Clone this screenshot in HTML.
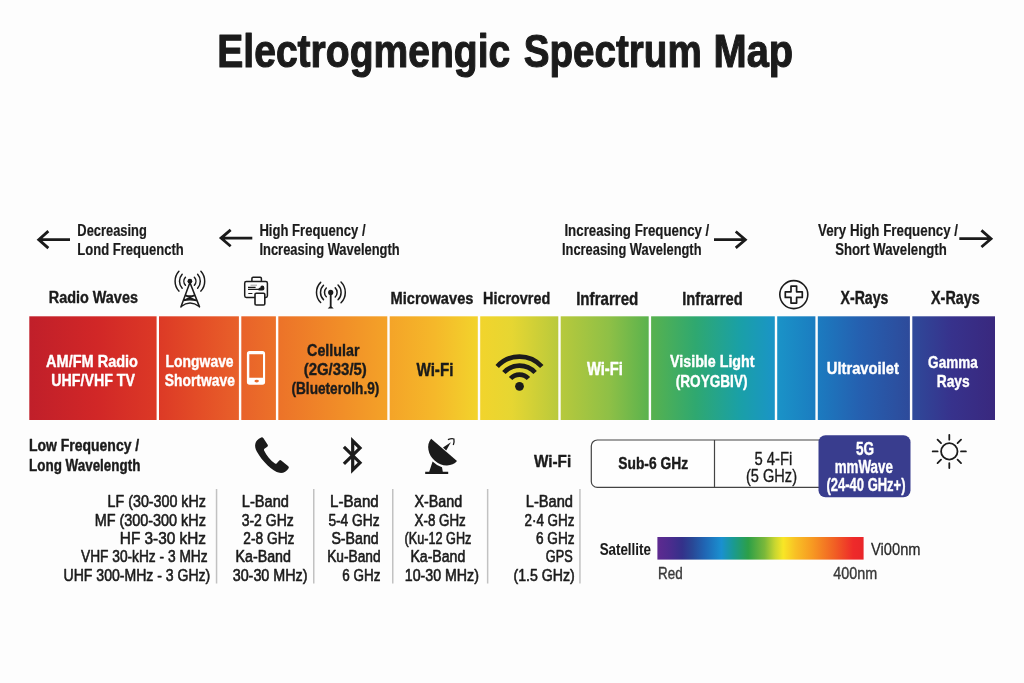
<!DOCTYPE html>
<html><head><meta charset="utf-8"><title>Electromagnetic Spectrum Map</title>
<style>
html,body{margin:0;padding:0;background:#fdfdfd;}
body{width:1024px;height:683px;overflow:hidden;font-family:"Liberation Sans",sans-serif;}
svg{display:block;will-change:transform;opacity:0.999;}
svg text{font-family:"Liberation Sans",sans-serif;}
</style></head><body>
<svg width="1024" height="683" viewBox="0 0 1024 683">
<text x="217.30" y="66.50" font-size="47" font-weight="bold" fill="#1b1b1b" textLength="292.91" lengthAdjust="spacingAndGlyphs" stroke="#1b1b1b" stroke-width="1.1" stroke-linejoin="round">Electrogmengic</text>
<text x="523.68" y="66.50" font-size="47" font-weight="bold" fill="#1b1b1b" textLength="178.10" lengthAdjust="spacingAndGlyphs" stroke="#1b1b1b" stroke-width="1.1" stroke-linejoin="round">Spectrum</text>
<text x="713.45" y="66.50" font-size="47" font-weight="bold" fill="#1b1b1b" textLength="79.71" lengthAdjust="spacingAndGlyphs" stroke="#1b1b1b" stroke-width="1.1" stroke-linejoin="round">Map</text>
<text x="77.34" y="235.60" font-size="16" font-weight="bold" fill="#1b1b1b" textLength="69.44" lengthAdjust="spacingAndGlyphs" stroke="#1b1b1b" stroke-width="0.2" stroke-linejoin="round">Decreasing</text>
<text x="77.33" y="254.60" font-size="16" font-weight="bold" fill="#1b1b1b" textLength="106.38" lengthAdjust="spacingAndGlyphs" stroke="#1b1b1b" stroke-width="0.2" stroke-linejoin="round">Lond Frequencth</text>
<text x="259.43" y="236.00" font-size="16" font-weight="bold" fill="#1b1b1b" textLength="106.09" lengthAdjust="spacingAndGlyphs" stroke="#1b1b1b" stroke-width="0.2" stroke-linejoin="round">High Frequency /</text>
<text x="259.44" y="255.00" font-size="16" font-weight="bold" fill="#1b1b1b" textLength="140.25" lengthAdjust="spacingAndGlyphs" stroke="#1b1b1b" stroke-width="0.2" stroke-linejoin="round">Increasing Wavelength</text>
<text x="564.42" y="235.90" font-size="16" font-weight="bold" fill="#1b1b1b" textLength="144.91" lengthAdjust="spacingAndGlyphs" stroke="#1b1b1b" stroke-width="0.2" stroke-linejoin="round">Increasing Frequency /</text>
<text x="562.04" y="254.90" font-size="16" font-weight="bold" fill="#1b1b1b" textLength="139.44" lengthAdjust="spacingAndGlyphs" stroke="#1b1b1b" stroke-width="0.2" stroke-linejoin="round">Increasing Wavelength</text>
<text x="818.01" y="235.90" font-size="16" font-weight="bold" fill="#1b1b1b" textLength="140.02" lengthAdjust="spacingAndGlyphs" stroke="#1b1b1b" stroke-width="0.2" stroke-linejoin="round">Very High Frequency /</text>
<text x="835.18" y="254.90" font-size="16" font-weight="bold" fill="#1b1b1b" textLength="111.51" lengthAdjust="spacingAndGlyphs" stroke="#1b1b1b" stroke-width="0.2" stroke-linejoin="round">Short Wavelength</text>
<path d="M70.0 239.65 H38.76 M48.36 231.15 L38.76 239.65 L48.36 248.15" fill="none" stroke="#1b1b1b" stroke-width="2.8" stroke-linecap="butt" stroke-linejoin="miter"/>
<path d="M252.3 238.1 H221.06 M230.66 229.90 L221.06 238.1 L230.66 246.30" fill="none" stroke="#1b1b1b" stroke-width="2.8" stroke-linecap="butt" stroke-linejoin="miter"/>
<path d="M714.0 239.7 H745.34 M735.74 231.50 L745.34 239.7 L735.74 247.90" fill="none" stroke="#1b1b1b" stroke-width="2.8" stroke-linecap="butt" stroke-linejoin="miter"/>
<path d="M959.3 238.7 H991.04 M981.44 230.40 L991.04 238.7 L981.44 247.00" fill="none" stroke="#1b1b1b" stroke-width="2.8" stroke-linecap="butt" stroke-linejoin="miter"/>
<text x="48.72" y="302.90" font-size="17.4" font-weight="bold" fill="#1b1b1b" textLength="89.22" lengthAdjust="spacingAndGlyphs" stroke="#1b1b1b" stroke-width="0.4" stroke-linejoin="round">Radio Waves</text>
<text x="390.51" y="303.80" font-size="17.4" font-weight="bold" fill="#1b1b1b" textLength="82.91" lengthAdjust="spacingAndGlyphs" stroke="#1b1b1b" stroke-width="0.4" stroke-linejoin="round">Microwaves</text>
<text x="483.02" y="303.80" font-size="17.4" font-weight="bold" fill="#1b1b1b" textLength="67.23" lengthAdjust="spacingAndGlyphs" stroke="#1b1b1b" stroke-width="0.4" stroke-linejoin="round">Hicrovred</text>
<text x="576.18" y="304.50" font-size="18.4" font-weight="bold" fill="#1b1b1b" textLength="62.18" lengthAdjust="spacingAndGlyphs" stroke="#1b1b1b" stroke-width="0.4" stroke-linejoin="round">Infrarred</text>
<text x="682.20" y="304.50" font-size="18.4" font-weight="bold" fill="#1b1b1b" textLength="60.42" lengthAdjust="spacingAndGlyphs" stroke="#1b1b1b" stroke-width="0.4" stroke-linejoin="round">Infrarred</text>
<text x="840.52" y="304.10" font-size="18" font-weight="bold" fill="#1b1b1b" textLength="47.90" lengthAdjust="spacingAndGlyphs" stroke="#1b1b1b" stroke-width="0.4" stroke-linejoin="round">X-Rays</text>
<text x="931.02" y="304.10" font-size="18" font-weight="bold" fill="#1b1b1b" textLength="48.71" lengthAdjust="spacingAndGlyphs" stroke="#1b1b1b" stroke-width="0.4" stroke-linejoin="round">X-Rays</text>
<defs><linearGradient id="sp" x1="29" x2="995" y1="0" y2="0" gradientUnits="userSpaceOnUse">
<stop offset="0" stop-color="#c01f2a"/>
<stop offset="0.07" stop-color="#d12727"/>
<stop offset="0.133" stop-color="#dc3926"/>
<stop offset="0.18" stop-color="#e44f27"/>
<stop offset="0.218" stop-color="#e8612a"/>
<stop offset="0.257" stop-color="#ec7229"/>
<stop offset="0.31" stop-color="#f08828"/>
<stop offset="0.372" stop-color="#f4a328"/>
<stop offset="0.42" stop-color="#f5b82a"/>
<stop offset="0.466" stop-color="#f2d42c"/>
<stop offset="0.50" stop-color="#e6d632"/>
<stop offset="0.549" stop-color="#b8c93c"/>
<stop offset="0.60" stop-color="#8fc046"/>
<stop offset="0.643" stop-color="#58b24e"/>
<stop offset="0.69" stop-color="#2fa870"/>
<stop offset="0.735" stop-color="#1aa0a6"/>
<stop offset="0.773" stop-color="#1a94c8"/>
<stop offset="0.815" stop-color="#1b7cc0"/>
<stop offset="0.86" stop-color="#2560b0"/>
<stop offset="0.913" stop-color="#2e4a9a"/>
<stop offset="0.955" stop-color="#37328c"/>
<stop offset="1" stop-color="#39287e"/>
</linearGradient>
<linearGradient id="vis" x1="657.4" x2="863.6" y1="0" y2="0" gradientUnits="userSpaceOnUse">
<stop offset="0" stop-color="#5e2a90"/>
<stop offset="0.06" stop-color="#4c2c8e"/>
<stop offset="0.12" stop-color="#34318a"/>
<stop offset="0.17" stop-color="#294896"/>
<stop offset="0.23" stop-color="#2066b4"/>
<stop offset="0.31" stop-color="#1a90d0"/>
<stop offset="0.37" stop-color="#1a9a90"/>
<stop offset="0.44" stop-color="#2c9f48"/>
<stop offset="0.52" stop-color="#7ab83a"/>
<stop offset="0.57" stop-color="#c8d630"/>
<stop offset="0.61" stop-color="#f8e626"/>
<stop offset="0.67" stop-color="#f8c025"/>
<stop offset="0.75" stop-color="#f79a22"/>
<stop offset="0.86" stop-color="#f15f24"/>
<stop offset="0.95" stop-color="#ee2a2a"/>
<stop offset="1" stop-color="#e9262a"/>
</linearGradient></defs>
<rect x="29.3" y="316.3" width="965.7" height="103.7" fill="url(#sp)"/>
<rect x="156.60" y="315.5" width="2.4" height="105.3" fill="#fdfdfd"/>
<rect x="238.90" y="315.5" width="2.4" height="105.3" fill="#fdfdfd"/>
<rect x="275.90" y="315.5" width="2.4" height="105.3" fill="#fdfdfd"/>
<rect x="387.30" y="315.5" width="2.4" height="105.3" fill="#fdfdfd"/>
<rect x="477.80" y="315.5" width="2.4" height="105.3" fill="#fdfdfd"/>
<rect x="558.30" y="315.5" width="2.4" height="105.3" fill="#fdfdfd"/>
<rect x="648.70" y="315.5" width="2.4" height="105.3" fill="#fdfdfd"/>
<rect x="774.80" y="315.5" width="2.4" height="105.3" fill="#fdfdfd"/>
<rect x="815.40" y="315.5" width="2.4" height="105.3" fill="#fdfdfd"/>
<rect x="909.90" y="315.5" width="2.4" height="105.3" fill="#fdfdfd"/>
<text x="46.10" y="366.80" font-size="16.6" font-weight="bold" fill="#ffffff" textLength="91.86" lengthAdjust="spacingAndGlyphs" stroke="#ffffff" stroke-width="0.4" stroke-linejoin="round">AM/FM Radio</text>
<text x="51.31" y="386.30" font-size="16.6" font-weight="bold" fill="#ffffff" textLength="83.66" lengthAdjust="spacingAndGlyphs" stroke="#ffffff" stroke-width="0.4" stroke-linejoin="round">UHF/VHF TV</text>
<text x="165.56" y="366.80" font-size="16.6" font-weight="bold" fill="#ffffff" textLength="68.07" lengthAdjust="spacingAndGlyphs" stroke="#ffffff" stroke-width="0.4" stroke-linejoin="round">Longwave</text>
<text x="164.74" y="386.30" font-size="16.6" font-weight="bold" fill="#ffffff" textLength="70.11" lengthAdjust="spacingAndGlyphs" stroke="#ffffff" stroke-width="0.4" stroke-linejoin="round">Shortwave</text>
<text x="307.09" y="355.80" font-size="16.6" font-weight="bold" fill="#1b1b1b" textLength="52.44" lengthAdjust="spacingAndGlyphs" stroke="#1b1b1b" stroke-width="0.4" stroke-linejoin="round">Cellular</text>
<text x="303.71" y="375.00" font-size="16.6" font-weight="bold" fill="#1b1b1b" textLength="63.16" lengthAdjust="spacingAndGlyphs" stroke="#1b1b1b" stroke-width="0.4" stroke-linejoin="round">(2G/33/5)</text>
<text x="291.48" y="393.80" font-size="16.6" font-weight="bold" fill="#1b1b1b" textLength="87.84" lengthAdjust="spacingAndGlyphs" stroke="#1b1b1b" stroke-width="0.4" stroke-linejoin="round">(Blueterolh.9)</text>
<text x="416.46" y="375.50" font-size="17.5" font-weight="bold" fill="#1b1b1b" textLength="36.94" lengthAdjust="spacingAndGlyphs" stroke="#1b1b1b" stroke-width="0.4" stroke-linejoin="round">Wi-Fi</text>
<text x="586.96" y="375.00" font-size="17.5" font-weight="bold" fill="#ffffff" textLength="35.91" lengthAdjust="spacingAndGlyphs" stroke="#ffffff" stroke-width="0.4" stroke-linejoin="round">Wi-Fi</text>
<text x="670.09" y="367.00" font-size="16.6" font-weight="bold" fill="#ffffff" textLength="84.42" lengthAdjust="spacingAndGlyphs" stroke="#ffffff" stroke-width="0.4" stroke-linejoin="round">Visible Light</text>
<text x="675.78" y="387.00" font-size="16.6" font-weight="bold" fill="#ffffff" textLength="71.71" lengthAdjust="spacingAndGlyphs" stroke="#ffffff" stroke-width="0.4" stroke-linejoin="round">(ROYGBIV)</text>
<text x="826.78" y="373.80" font-size="16.6" font-weight="bold" fill="#ffffff" textLength="72.09" lengthAdjust="spacingAndGlyphs" stroke="#ffffff" stroke-width="0.4" stroke-linejoin="round">Ultravoilet</text>
<text x="928.12" y="367.50" font-size="16.6" font-weight="bold" fill="#ffffff" textLength="49.63" lengthAdjust="spacingAndGlyphs" stroke="#ffffff" stroke-width="0.4" stroke-linejoin="round">Gamma</text>
<text x="936.76" y="387.00" font-size="16.6" font-weight="bold" fill="#ffffff" textLength="32.94" lengthAdjust="spacingAndGlyphs" stroke="#ffffff" stroke-width="0.4" stroke-linejoin="round">Rays</text>
<text x="29.05" y="451.20" font-size="15.6" font-weight="bold" fill="#1b1b1b" textLength="110.13" lengthAdjust="spacingAndGlyphs" stroke="#1b1b1b" stroke-width="0.4" stroke-linejoin="round">Low Frequency /</text>
<text x="29.09" y="470.60" font-size="15.6" font-weight="bold" fill="#1b1b1b" textLength="111.27" lengthAdjust="spacingAndGlyphs" stroke="#1b1b1b" stroke-width="0.4" stroke-linejoin="round">Long Wavelength</text>
<text x="107.60" y="507.00" font-size="16.2" font-weight="normal" fill="#1b1b1b" textLength="98.30" lengthAdjust="spacingAndGlyphs" stroke="#1b1b1b" stroke-width="0.6" stroke-linejoin="round">LF (30-300 kHz</text>
<text x="94.69" y="525.50" font-size="16.2" font-weight="normal" fill="#1b1b1b" textLength="111.19" lengthAdjust="spacingAndGlyphs" stroke="#1b1b1b" stroke-width="0.6" stroke-linejoin="round">MF (300-300 kHz</text>
<text x="119.81" y="544.20" font-size="16.2" font-weight="normal" fill="#1b1b1b" textLength="86.15" lengthAdjust="spacingAndGlyphs" stroke="#1b1b1b" stroke-width="0.6" stroke-linejoin="round">HF 3-30 kHz</text>
<text x="80.97" y="562.40" font-size="16.2" font-weight="normal" fill="#1b1b1b" textLength="126.65" lengthAdjust="spacingAndGlyphs" stroke="#1b1b1b" stroke-width="0.6" stroke-linejoin="round">VHF 30-kHz - 3 MHz</text>
<text x="63.59" y="581.00" font-size="16.2" font-weight="normal" fill="#1b1b1b" textLength="146.72" lengthAdjust="spacingAndGlyphs" stroke="#1b1b1b" stroke-width="0.6" stroke-linejoin="round">UHF 300-MHz - 3 GHz)</text>
<text x="241.87" y="507.00" font-size="16.2" font-weight="normal" fill="#1b1b1b" textLength="47.03" lengthAdjust="spacingAndGlyphs" stroke="#1b1b1b" stroke-width="0.6" stroke-linejoin="round">L-Band</text>
<text x="241.68" y="525.50" font-size="16.2" font-weight="normal" fill="#1b1b1b" textLength="52.05" lengthAdjust="spacingAndGlyphs" stroke="#1b1b1b" stroke-width="0.6" stroke-linejoin="round">3-2 GHz</text>
<text x="243.35" y="544.20" font-size="16.2" font-weight="normal" fill="#1b1b1b" textLength="51.07" lengthAdjust="spacingAndGlyphs" stroke="#1b1b1b" stroke-width="0.6" stroke-linejoin="round">2-8 GHz</text>
<text x="235.50" y="562.40" font-size="16.2" font-weight="normal" fill="#1b1b1b" textLength="55.41" lengthAdjust="spacingAndGlyphs" stroke="#1b1b1b" stroke-width="0.6" stroke-linejoin="round">Ka-Band</text>
<text x="232.67" y="581.00" font-size="16.2" font-weight="normal" fill="#1b1b1b" textLength="74.91" lengthAdjust="spacingAndGlyphs" stroke="#1b1b1b" stroke-width="0.6" stroke-linejoin="round">30-30 MHz)</text>
<text x="330.03" y="507.00" font-size="16.2" font-weight="normal" fill="#1b1b1b" textLength="48.71" lengthAdjust="spacingAndGlyphs" stroke="#1b1b1b" stroke-width="0.6" stroke-linejoin="round">L-Band</text>
<text x="328.39" y="525.50" font-size="16.2" font-weight="normal" fill="#1b1b1b" textLength="51.23" lengthAdjust="spacingAndGlyphs" stroke="#1b1b1b" stroke-width="0.6" stroke-linejoin="round">5-4 GHz</text>
<text x="331.40" y="544.20" font-size="16.2" font-weight="normal" fill="#1b1b1b" textLength="47.29" lengthAdjust="spacingAndGlyphs" stroke="#1b1b1b" stroke-width="0.6" stroke-linejoin="round">S-Band</text>
<text x="327.14" y="562.40" font-size="16.2" font-weight="normal" fill="#1b1b1b" textLength="53.54" lengthAdjust="spacingAndGlyphs" stroke="#1b1b1b" stroke-width="0.6" stroke-linejoin="round">Ku-Band</text>
<text x="342.37" y="581.00" font-size="16.2" font-weight="normal" fill="#1b1b1b" textLength="38.05" lengthAdjust="spacingAndGlyphs" stroke="#1b1b1b" stroke-width="0.6" stroke-linejoin="round">6 GHz</text>
<text x="414.48" y="507.00" font-size="16.2" font-weight="normal" fill="#1b1b1b" textLength="47.72" lengthAdjust="spacingAndGlyphs" stroke="#1b1b1b" stroke-width="0.6" stroke-linejoin="round">X-Band</text>
<text x="414.51" y="525.50" font-size="16.2" font-weight="normal" fill="#1b1b1b" textLength="51.31" lengthAdjust="spacingAndGlyphs" stroke="#1b1b1b" stroke-width="0.6" stroke-linejoin="round">X-8 GHz</text>
<text x="404.58" y="544.20" font-size="16.2" font-weight="normal" fill="#1b1b1b" textLength="66.80" lengthAdjust="spacingAndGlyphs" stroke="#1b1b1b" stroke-width="0.6" stroke-linejoin="round">(Ku-12 GHz</text>
<text x="410.41" y="562.40" font-size="16.2" font-weight="normal" fill="#1b1b1b" textLength="54.89" lengthAdjust="spacingAndGlyphs" stroke="#1b1b1b" stroke-width="0.6" stroke-linejoin="round">Ka-Band</text>
<text x="404.78" y="581.00" font-size="16.2" font-weight="normal" fill="#1b1b1b" textLength="74.09" lengthAdjust="spacingAndGlyphs" stroke="#1b1b1b" stroke-width="0.6" stroke-linejoin="round">10-30 MHz)</text>
<text x="525.77" y="507.00" font-size="16.2" font-weight="normal" fill="#1b1b1b" textLength="47.24" lengthAdjust="spacingAndGlyphs" stroke="#1b1b1b" stroke-width="0.6" stroke-linejoin="round">L-Band</text>
<text x="524.47" y="525.50" font-size="16.2" font-weight="normal" fill="#1b1b1b" textLength="50.04" lengthAdjust="spacingAndGlyphs" stroke="#1b1b1b" stroke-width="0.6" stroke-linejoin="round">2·4 GHz</text>
<text x="535.96" y="544.20" font-size="16.2" font-weight="normal" fill="#1b1b1b" textLength="38.57" lengthAdjust="spacingAndGlyphs" stroke="#1b1b1b" stroke-width="0.6" stroke-linejoin="round">6 GHz</text>
<text x="545.80" y="562.40" font-size="16.2" font-weight="normal" fill="#1b1b1b" textLength="26.85" lengthAdjust="spacingAndGlyphs" stroke="#1b1b1b" stroke-width="0.6" stroke-linejoin="round">GPS</text>
<text x="513.49" y="581.00" font-size="16.2" font-weight="normal" fill="#1b1b1b" textLength="61.27" lengthAdjust="spacingAndGlyphs" stroke="#1b1b1b" stroke-width="0.6" stroke-linejoin="round">(1.5 GHz)</text>
<rect x="215.80" y="489" width="1.5" height="94.5" fill="#c2c2c2"/>
<rect x="313.00" y="489" width="1.5" height="94.5" fill="#c2c2c2"/>
<rect x="392.00" y="489" width="1.5" height="94.5" fill="#c2c2c2"/>
<rect x="486.90" y="489" width="1.5" height="94.5" fill="#c2c2c2"/>
<rect x="579.20" y="489" width="1.5" height="94.5" fill="#c2c2c2"/>
<text x="533.96" y="467.40" font-size="17.3" font-weight="bold" fill="#1b1b1b" textLength="37.24" lengthAdjust="spacingAndGlyphs" stroke="#1b1b1b" stroke-width="0.4" stroke-linejoin="round">Wi-Fi</text>
<path d="M825 440 H597.3 a6 6 0 0 0 -6 6 V481.4 a6 6 0 0 0 6 6 H825 M714.5 440 V487.4" fill="#fefefe" stroke="#444444" stroke-width="1.2"/>
<text x="618.25" y="469.10" font-size="16.5" font-weight="bold" fill="#1b1b1b" textLength="69.79" lengthAdjust="spacingAndGlyphs" stroke="#1b1b1b" stroke-width="0.4" stroke-linejoin="round">Sub-6 GHz</text>
<text x="754.45" y="464.90" font-size="17.5" font-weight="normal" fill="#1b1b1b" textLength="37.90" lengthAdjust="spacingAndGlyphs" stroke="#1b1b1b" stroke-width="0.35" stroke-linejoin="round">5 4-Fi</text>
<text x="745.96" y="482.00" font-size="17.5" font-weight="normal" fill="#1b1b1b" textLength="51.04" lengthAdjust="spacingAndGlyphs" stroke="#1b1b1b" stroke-width="0.35" stroke-linejoin="round">(5 GHz)</text>
<rect x="818.5" y="435.3" width="92" height="62" rx="7" ry="7" fill="#393d8e"/>
<text x="855.95" y="454.60" font-size="18" font-weight="bold" fill="#ffffff" textLength="18.05" lengthAdjust="spacingAndGlyphs" stroke="#ffffff" stroke-width="0.4" stroke-linejoin="round">5G</text>
<text x="834.69" y="473.30" font-size="18" font-weight="bold" fill="#ffffff" textLength="58.16" lengthAdjust="spacingAndGlyphs" stroke="#ffffff" stroke-width="0.4" stroke-linejoin="round">mmWave</text>
<text x="826.51" y="490.90" font-size="18" font-weight="bold" fill="#ffffff" textLength="79.02" lengthAdjust="spacingAndGlyphs" stroke="#ffffff" stroke-width="0.4" stroke-linejoin="round">(24-40 GHz+)</text>
<text x="599.64" y="554.50" font-size="15.8" font-weight="bold" fill="#1b1b1b" textLength="51.29" lengthAdjust="spacingAndGlyphs" stroke="#1b1b1b" stroke-width="0.1" stroke-linejoin="round">Satellite</text>
<rect x="657.4" y="537" width="206.2" height="22.6" fill="url(#vis)"/>
<text x="871.05" y="554.50" font-size="16.5" font-weight="normal" fill="#2a2a2a" textLength="49.56" lengthAdjust="spacingAndGlyphs" stroke="#2a2a2a" stroke-width="0.3" stroke-linejoin="round">Vi00nm</text>
<text x="658.09" y="578.80" font-size="16.3" font-weight="normal" fill="#3a3a3a" textLength="24.62" lengthAdjust="spacingAndGlyphs" stroke="#3a3a3a" stroke-width="0.4" stroke-linejoin="round">Red</text>
<text x="833.27" y="578.50" font-size="16.3" font-weight="normal" fill="#3a3a3a" textLength="43.87" lengthAdjust="spacingAndGlyphs" stroke="#3a3a3a" stroke-width="0.4" stroke-linejoin="round">400nm</text>
<path d="M185.44 277.19 A6.0 6.0 0 0 0 185.44 285.21 M182.17 274.24 A10.4 10.4 0 0 0 182.17 288.16 M178.90 271.30 A14.8 14.8 0 0 0 178.90 291.10 M194.36 277.19 A6.0 6.0 0 0 1 194.36 285.21 M197.63 274.24 A10.4 10.4 0 0 1 197.63 288.16 M200.90 271.30 A14.8 14.8 0 0 1 200.90 291.10" fill="none" stroke="#1b1b1b" stroke-width="1.5" stroke-linecap="round"/>
<circle cx="189.9" cy="281.2" r="2.4" fill="#1b1b1b"/>
<path d="M189.9 282.5 L180.9 306.9 M189.9 282.5 L199.5 306.9 M185.4 295.2 Q189.9 297 194.4 295.2 M183.4 300.6 Q189.9 298.8 196.4 300.6 M181.2 306.5 Q189.9 299.6 199.2 306.5 M185.6 295.6 L196 300.4 M194.2 295.6 L183.8 300.4" fill="none" stroke="#1b1b1b" stroke-width="1.55" stroke-linecap="round" stroke-linejoin="round"/>
<path d="M251.9 281 V278.4 a1.2 1.2 0 0 1 1.2 -1.2 H260.2 a1.2 1.2 0 0 1 1.2 1.2 V281" fill="none" stroke="#1b1b1b" stroke-width="1.5"/>
<rect x="244.7" y="281.6" width="22.7" height="15.8" rx="1.6" fill="#fdfdfd" stroke="#1b1b1b" stroke-width="1.5"/>
<path d="M250.5 285.2 H257" stroke="#a8a8a8" stroke-width="1.1" fill="none"/>
<path d="M248 287.3 H255.6 M248 289.4 H259 M248.3 293.5 H252.4" stroke="#1b1b1b" stroke-width="1.2" fill="none"/>
<path d="M258.2 289.6 Q258.6 287.6 260.4 287.6 Q260.2 285.6 262.2 285.6 Q264.4 285.6 264.4 288 Q264.6 290.6 262 290.5 H259 Q258.2 290.4 258.2 289.6Z" fill="#1b1b1b"/>
<rect x="255" y="293.3" width="9.8" height="11.7" rx="1.3" fill="#fdfdfd" stroke="#1b1b1b" stroke-width="1.6"/>
<path d="M326.32 288.02 A6.2 6.2 0 0 0 326.32 296.78 M323.49 285.19 A10.2 10.2 0 0 0 323.49 299.61 M320.66 282.36 A14.2 14.2 0 0 0 320.66 302.44 M335.23 287.87 A6.4 6.4 0 0 1 335.23 296.93 M338.05 285.05 A10.4 10.4 0 0 1 338.05 299.75 M341.02 282.08 A14.6 14.6 0 0 1 341.02 302.72" fill="none" stroke="#1b1b1b" stroke-width="1.5" stroke-linecap="round"/>
<circle cx="330.7" cy="292.4" r="2.6" fill="#1b1b1b"/>
<path d="M329.8 292.4 V306.6 L327.7 308.6 H333.7 L331.59999999999997 306.6 V292.4Z" fill="#1b1b1b"/>
<circle cx="793.8" cy="294.6" r="14" fill="none" stroke="#1b1b1b" stroke-width="1.6"/>
<path d="M791.0 286.1 H796.5999999999999 V291.8 H802.3 V297.40000000000003 H796.5999999999999 V303.1 H791.0 V297.40000000000003 H785.3 V291.8 H791.0Z" fill="none" stroke="#1b1b1b" stroke-width="1.7" stroke-linejoin="round"/>
<path fill-rule="evenodd" fill="#ffffff" d="M249.6 351.1 H262.4 a2.7 2.7 0 0 1 2.7 2.7 V382.1 a2.7 2.7 0 0 1 -2.7 2.7 H249.6 a2.7 2.7 0 0 1 -2.7 -2.7 V353.8 a2.7 2.7 0 0 1 2.7 -2.7Z M249.3 354.3 V377.8 H263 V354.3Z M254.5 381.1 a2.2 1.4 0 1 0 4.4 0 a2.2 1.4 0 1 0 -4.4 0Z"/>
<path d="M497.21 366.53 A30 30 0 0 1 541.79 366.53 M503.89 372.55 A21 21 0 0 1 535.11 372.55 M510.58 378.57 A12 12 0 0 1 528.42 378.57" fill="none" stroke="#1b1b1b" stroke-width="4.6"/>
<circle cx="519.5" cy="386.3" r="4.4" fill="#1b1b1b"/>
<path fill="#1b1b1b" d="M261.2 437.4 Q262.5 436.9 263.3 438.1 L267.7 444.7 Q268.4 445.9 267.3 446.7 L264.4 448.8 Q263.6 449.5 264.1 450.5 C266.5 455.5 270.5 460.5 275 463.6 Q276 464.2 276.8 463.3 L279.3 460.4 Q280.1 459.6 281.2 460.4 L288.3 466.2 Q289.3 467.1 288.6 468.2 C286.5 471.6 283 473.4 279.5 472.8 C272.5 471.5 262 461 256.8 451.5 C254 446 254.3 440.5 261.2 437.4Z"/>
<path d="M343.9 446.9 L360 462.7 L352.7 470 V440.8 L360 448.1 L343.9 463.9" fill="none" stroke="#1b1b1b" stroke-width="3.2" stroke-linejoin="miter" stroke-miterlimit="6"/>
<path fill="#1b1b1b" d="M431.2 438.8 A17.05 14.2 40.8 0 0 457 461.1Z"/>
<path fill="#1b1b1b" d="M443 447.6 L450.9 442.2 L446.2 450.4Z"/>
<path fill="none" stroke="#1b1b1b" stroke-width="1.3" d="M447.9 439.6 Q451.8 438.2 453.9 439 Q454.5 441.8 453.3 445"/>
<path fill="#1b1b1b" d="M432.6 461.6 Q436.5 465.6 442 467.2 L442.8 471.8 H448.2 V473.9 H425.2 V471.8 H429.2Z"/>
<circle cx="949.3" cy="451.4" r="8.2" fill="none" stroke="#1b1b1b" stroke-width="1.8"/>
<path d="M961.00 451.40 L965.90 451.40 M957.57 459.67 L961.04 463.14 M949.30 463.10 L949.30 468.00 M941.03 459.67 L937.56 463.14 M937.60 451.40 L932.70 451.40 M941.03 443.13 L937.56 439.66 M949.30 439.70 L949.30 434.80 M957.57 443.13 L961.04 439.66" stroke="#1b1b1b" stroke-width="1.8" fill="none" stroke-linecap="round"/>
</svg>
</body></html>
